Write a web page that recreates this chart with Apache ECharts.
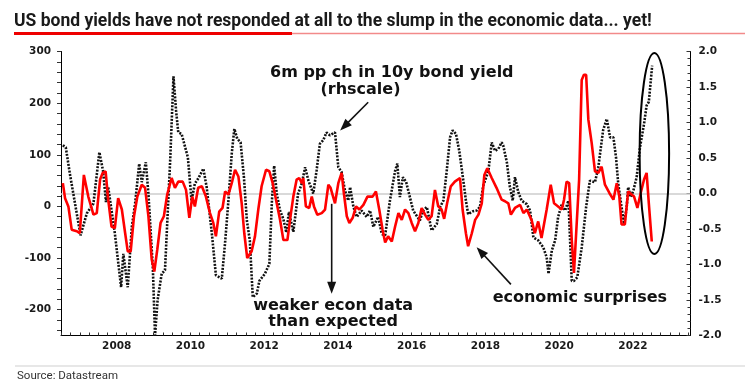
<!DOCTYPE html>
<html><head><meta charset="utf-8">
<script src="https://cdn.jsdelivr.net/npm/echarts@6/dist/echarts.min.js"></script>
<style>html,body{margin:0;padding:0;background:#fff}#c{width:747px;height:389px}</style>
</head><body><div id="c"></div>
<script>
// ---- tick labels ----
const xTickLabels = [2008, 2010, 2012, 2014, 2016, 2018, 2020, 2022];
const leftTickLabels = [-200, -100, 0, 100, 200, 300];
const rightTickLabels = [-2, -1.5, -1, -0.5, 0, 0.5, 1, 1.5, 2];

// ---- 6m pp change in US 10y bond yield (rhs) ----
const yieldDates = [2006.54,2006.62,2006.73,2006.87,2007.02,2007.19,2007.37,2007.53,2007.63,2007.71,2007.77,2007.95,
2008.12,2008.18,2008.23,2008.30,2008.41,2008.50,2008.61,2008.68,2008.79,2008.86,2008.98,2009.04,2009.11,2009.22,2009.31,
2009.45,2009.54,2009.61,2009.67,2009.76,2009.93,2010.03,2010.12,2010.21,2010.35,2010.44,2010.58,2010.69,2010.85,2010.94,
2011.03,2011.12,2011.19,2011.27,2011.36,2011.45,2011.53,2011.61,2011.69,2011.80,2011.87,2012.02,2012.14,2012.21,2012.27,
2012.34,2012.43,2012.52,2012.60,2012.67,2012.79,2012.92,2013.02,2013.11,2013.20,2013.33,2013.42,2013.51,2013.60,2013.69,
2013.78,2013.92,2014.01,2014.10,2014.19,2014.28,2014.33,2014.42,2014.51,2014.64,2014.78,2014.87,2014.96,2015.09,2015.19,
2015.28,2015.41,2015.55,2015.61,2015.68,2015.76,2015.85,2015.95,2016.04,2016.22,2016.31,2016.41,2016.54,2016.68,2016.77,
2016.86,2016.95,2017.04,2017.11,2017.20,2017.29,2017.40,2017.47,2017.53,2017.66,2017.76,2017.85,2017.94,2018.08,2018.17,
2018.26,2018.35,2018.44,2018.48,2018.58,2018.66,2018.74,2018.80,2018.89,2018.98,2019.12,2019.21,2019.30,2019.43,2019.57,
2019.66,2019.71,2019.80,2019.89,2019.97,2020.07,2020.16,2020.25,2020.34,2020.40,2020.49,2020.61,2020.73,2020.83,2020.97,
2021.06,2021.19,2021.29,2021.38,2021.47,2021.54,2021.60,2021.69,2021.76,2021.83,2021.87,2021.94,2022.01,2022.10,2022.19,
2022.30,2022.37,2022.43,2022.52];
const yieldValues = [0.68,0.65,0.28,-0.14,-0.59,-0.28,-0.14,0.58,0.32,-0.12,0.09,-0.56,
-1.32,-0.85,-0.83,-1.32,-0.47,-0.14,0.42,0.16,0.44,0.00,-1.04,-2.00,-1.50,-1.13,-1.08,
0.46,1.65,1.17,0.86,0.84,0.51,-0.10,0.14,0.21,0.35,0.09,-0.56,-1.15,-1.20,-0.69,
-0.10,0.56,0.91,0.77,0.72,0.23,-0.38,-0.66,-1.46,-1.41,-1.23,-1.13,-0.99,-0.10,0.39,
0.00,-0.24,-0.36,-0.55,-0.26,-0.54,0.00,0.14,0.37,0.18,0.00,0.32,0.70,0.75,0.86,
0.82,0.86,0.37,0.30,0.04,-0.10,0.09,-0.19,-0.33,-0.24,-0.33,-0.24,-0.47,-0.33,-0.57,
-0.59,-0.10,0.32,0.42,-0.05,0.23,0.16,-0.05,-0.24,-0.38,-0.24,-0.19,-0.52,-0.43,-0.19,
-0.10,0.32,0.79,0.89,0.84,0.60,0.18,-0.10,-0.29,-0.25,-0.24,-0.19,0.11,0.32,0.72,
0.60,0.63,0.72,0.68,0.44,0.10,-0.10,0.23,0.02,-0.10,-0.15,-0.24,-0.62,-0.66,-0.76,
-0.90,-1.13,-0.80,-0.66,-0.33,-0.15,-0.24,-0.10,-1.23,-1.23,-1.18,-0.76,-0.19,0.18,0.16,
0.37,0.89,1.05,0.79,0.79,0.51,0.14,-0.19,-0.43,-0.19,0.09,-0.05,0.04,0.23,0.65,
0.98,1.24,1.29,1.80];

// ---- Economic surprise index (lhs) ----
const esiDates = [2006.54,2006.60,2006.69,2006.78,2006.92,2007.00,2007.11,2007.23,2007.37,2007.46,2007.55,2007.62,2007.70,
2007.77,2007.86,2007.95,2008.04,2008.14,2008.23,2008.30,2008.38,2008.47,2008.56,2008.68,2008.77,2008.86,2008.95,2009.02,
2009.10,2009.19,2009.28,2009.37,2009.49,2009.58,2009.67,2009.79,2009.88,2009.97,2010.05,2010.12,2010.21,2010.31,2010.42,
2010.53,2010.62,2010.69,2010.78,2010.87,2010.94,2011.03,2011.12,2011.21,2011.30,2011.39,2011.46,2011.54,2011.66,2011.75,
2011.84,2011.93,2012.05,2012.14,2012.23,2012.34,2012.43,2012.52,2012.63,2012.70,2012.79,2012.88,2012.95,2013.02,2013.06,
2013.13,2013.22,2013.29,2013.35,2013.44,2013.56,2013.65,2013.74,2013.80,2013.92,2014.01,2014.10,2014.16,2014.24,2014.31,
2014.40,2014.49,2014.58,2014.69,2014.80,2014.94,2015.03,2015.12,2015.21,2015.28,2015.36,2015.46,2015.55,2015.64,2015.73,
2015.82,2015.91,2016.00,2016.09,2016.18,2016.27,2016.36,2016.45,2016.54,2016.63,2016.72,2016.81,2016.88,2016.96,2017.06,
2017.17,2017.31,2017.38,2017.47,2017.53,2017.63,2017.72,2017.81,2017.90,2017.97,2018.05,2018.17,2018.30,2018.44,2018.53,
2018.62,2018.69,2018.80,2018.94,2019.03,2019.12,2019.25,2019.34,2019.43,2019.52,2019.66,2019.77,2019.86,2019.97,2020.07,
2020.13,2020.20,2020.27,2020.34,2020.40,2020.45,2020.54,2020.61,2020.67,2020.73,2020.79,2020.88,2020.97,2021.06,2021.15,
2021.24,2021.36,2021.47,2021.56,2021.63,2021.69,2021.78,2021.87,2021.96,2022.03,2022.12,2022.21,2022.30,2022.37,2022.43,
2022.51];
const esiValues = [45,16,0,-45,-48,-52,61,19,-16,-13,52,65,68,
13,-39,-42,16,-6,-52,-87,-87,-19,19,42,36,-19,-103,-126,
-84,-32,-19,23,55,36,48,48,32,-22,19,0,36,39,19,
-13,-32,-58,-10,-3,29,23,45,71,58,6,-52,-100,-87,-58,
-6,39,71,68,45,6,-26,-65,-65,-26,19,52,55,45,55,
0,-3,19,0,-16,-13,-6,42,36,6,45,65,26,-19,-32,
-22,0,-6,3,19,19,29,-6,-45,-70,-58,-68,-39,-13,-26,
-6,-13,-32,-48,-32,-3,-16,-26,-19,32,0,-6,-24,6,39,
48,55,-6,-52,-77,-52,-26,-16,6,61,74,55,36,13,10,
6,-16,-3,3,-13,-6,-26,-52,-29,-61,-6,42,6,0,-6,
13,48,45,-65,-129,-129,52,245,255,255,168,123,68,65,77,
42,26,13,45,19,-35,-35,29,23,19,-3,26,52,65,6,
-68];

// ---- annotation anchors in data units (year, rhs value) ----
const noteBond = [2015.46, 1.70];
const noteRhs = [2014.61, 1.46];
const arrowBond = [[2014.82, 1.286], [2014.06, 0.887]];
const noteWeak1 = [2013.87, -1.577];
const noteWeak2 = [2013.87, -1.803];
const arrowWeak = [[2013.83, -0.145], [2013.83, -1.413]];
const noteEsi = [2020.56, -1.472];
const arrowEsi = [[2018.69, -1.28], [2017.76, -0.756]];
const ovalCentre = [2022.58, 0.563];
const ovalHalf = [0.40, 1.415];

const axisFont = {fontFamily: 'DejaVu Sans', fontWeight: 'bold', fontSize: 10.5, color: '#1a1a1a'};
const qTicks = [];
for (let v = 2006.5; v <= 2023.5; v += 0.25) qTicks.push(+v.toFixed(2));
const lTicks = [];
for (let v = -240; v <= 300; v += 20) lTicks.push(v);

const option = {
  animation: false,
  backgroundColor: '#fff',
  grid: {left: 61, right: 56.5, top: 51.5, bottom: 53.5, containLabel: false},
  xAxis: {
    type: 'value', min: 2006.49, max: 2023.56,
    axisLine: {show: true, onZero: false, lineStyle: {color: '#000', width: 1}},
    axisTick: {show: true, inside: true, length: 3, customValues: qTicks, lineStyle: {color: '#333'}},
    axisLabel: Object.assign({customValues: xTickLabels, margin: 5, formatter: v => String(v)}, axisFont),
    splitLine: {show: false}
  },
  yAxis: [
    {
      type: 'value', min: -250, max: 300, position: 'left',
      axisLine: {show: true, onZero: false, lineStyle: {color: '#000', width: 1}},
      axisTick: {show: true, inside: false, length: 4, customValues: lTicks, lineStyle: {color: '#333'}},
      axisLabel: Object.assign({customValues: leftTickLabels, margin: 10}, axisFont),
      splitLine: {show: false}
    },
    {
      type: 'value', min: -2, max: 2, interval: 0.5, position: 'right',
      axisLine: {show: true, onZero: false, lineStyle: {color: '#000', width: 1}},
      axisTick: {show: true, inside: true, length: 4, lineStyle: {color: '#333'}},
      minorTick: {show: true, splitNumber: 5, length: 3, lineStyle: {color: '#333'}},
      axisLabel: Object.assign({customValues: rightTickLabels, margin: 8, formatter: v => v.toFixed(1)}, axisFont),
      splitLine: {show: false}
    }
  ],
  series: [
    {
      name: '6m pp ch in 10y bond yield', type: 'line', xAxisIndex: 0, yAxisIndex: 1,
      data: yieldDates.map((d, i) => [d, yieldValues[i]]),
      symbol: 'none', z: 2,
      lineStyle: {color: '#111', width: 2.6, type: [2, 1.4], cap: 'butt'},
      markLine: {silent: true, symbol: 'none', z: 1, label: {show: false},
        lineStyle: {color: '#cccccc', width: 1.5, type: 'solid'}, data: [{yAxis: 0}]}
    },
    {
      name: 'economic surprises', type: 'line', xAxisIndex: 0, yAxisIndex: 0,
      data: esiDates.map((d, i) => [d, esiValues[i]]),
      symbol: 'none', z: 3,
      lineStyle: {color: '#ff0000', width: 2.6}
    }
  ]
};

const chart = echarts.init(document.getElementById('c'));
chart.setOption(option);

function P(pt) {
  return [chart.convertToPixel({xAxisIndex: 0}, pt[0]), chart.convertToPixel({yAxisIndex: 1}, pt[1])];
}
function arrow(a, b) {
  const p1 = P(a), p2 = P(b);
  const dx = p2[0] - p1[0], dy = p2[1] - p1[1];
  const L = Math.hypot(dx, dy), ux = dx / L, uy = dy / L;
  const hl = 12, hw = 4.5;
  const bx = p2[0] - ux * hl, by = p2[1] - uy * hl;
  return [
    {type: 'line', silent: true, z: 20, shape: {x1: p1[0], y1: p1[1], x2: bx + ux * 2, y2: by + uy * 2}, style: {stroke: '#111', lineWidth: 1.6}},
    {type: 'polygon', silent: true, z: 20, shape: {points: [[p2[0], p2[1]], [bx - uy * hw, by + ux * hw], [bx + uy * hw, by - ux * hw]]}, style: {fill: '#111'}}
  ];
}
function note(pt, text) {
  const p = P(pt);
  return {type: 'text', silent: true, z: 20, x: p[0], y: p[1],
    style: {text: text, fontFamily: 'DejaVu Sans', fontWeight: 'bold', fontSize: 16, fill: '#111', align: 'center', verticalAlign: 'middle'}};
}
const oc = P(ovalCentre);
const orx = Math.abs(P([ovalCentre[0] + ovalHalf[0], 0])[0] - oc[0]);
const ory = Math.abs(P([0, ovalCentre[1] + ovalHalf[1]])[1] - oc[1]);

const graphics = [
  {type: 'text', silent: true, x: 14, y: 21.5,
    style: {text: 'US bond yields have not responded at all to the slump in the economic data... yet!',
      fontFamily: 'Roboto', fontWeight: 'bold', fontSize: 17.5, fill: '#1a1a1a', align: 'left', verticalAlign: 'middle'}},
  {type: 'line', silent: true, shape: {x1: 14, y1: 33.5, x2: 745, y2: 33.5}, style: {stroke: '#f28a8a', lineWidth: 1.5}},
  {type: 'line', silent: true, shape: {x1: 14, y1: 33.5, x2: 292, y2: 33.5}, style: {stroke: '#ee0000', lineWidth: 3}},
  {type: 'line', silent: true, shape: {x1: 15, y1: 366, x2: 745, y2: 366}, style: {stroke: '#cfcfcf', lineWidth: 1}},
  {type: 'text', silent: true, x: 17, y: 376.5,
    style: {text: 'Source: Datastream', fontFamily: 'Roboto', fontSize: 11.5, fill: '#333', align: 'left', verticalAlign: 'middle'}},
  note(noteBond, '6m pp ch in 10y bond yield'),
  note(noteRhs, '(rhscale)'),
  note(noteWeak1, 'weaker econ data'),
  note(noteWeak2, 'than expected'),
  note(noteEsi, 'economic surprises'),
  {type: 'ellipse', silent: true, z: 20, shape: {cx: oc[0], cy: oc[1], rx: orx, ry: ory}, style: {stroke: '#000', lineWidth: 2, fill: 'none'}}
].concat(arrow(arrowBond[0], arrowBond[1]), arrow(arrowWeak[0], arrowWeak[1]), arrow(arrowEsi[0], arrowEsi[1]));

chart.setOption({graphic: graphics});
</script>
</body></html>
